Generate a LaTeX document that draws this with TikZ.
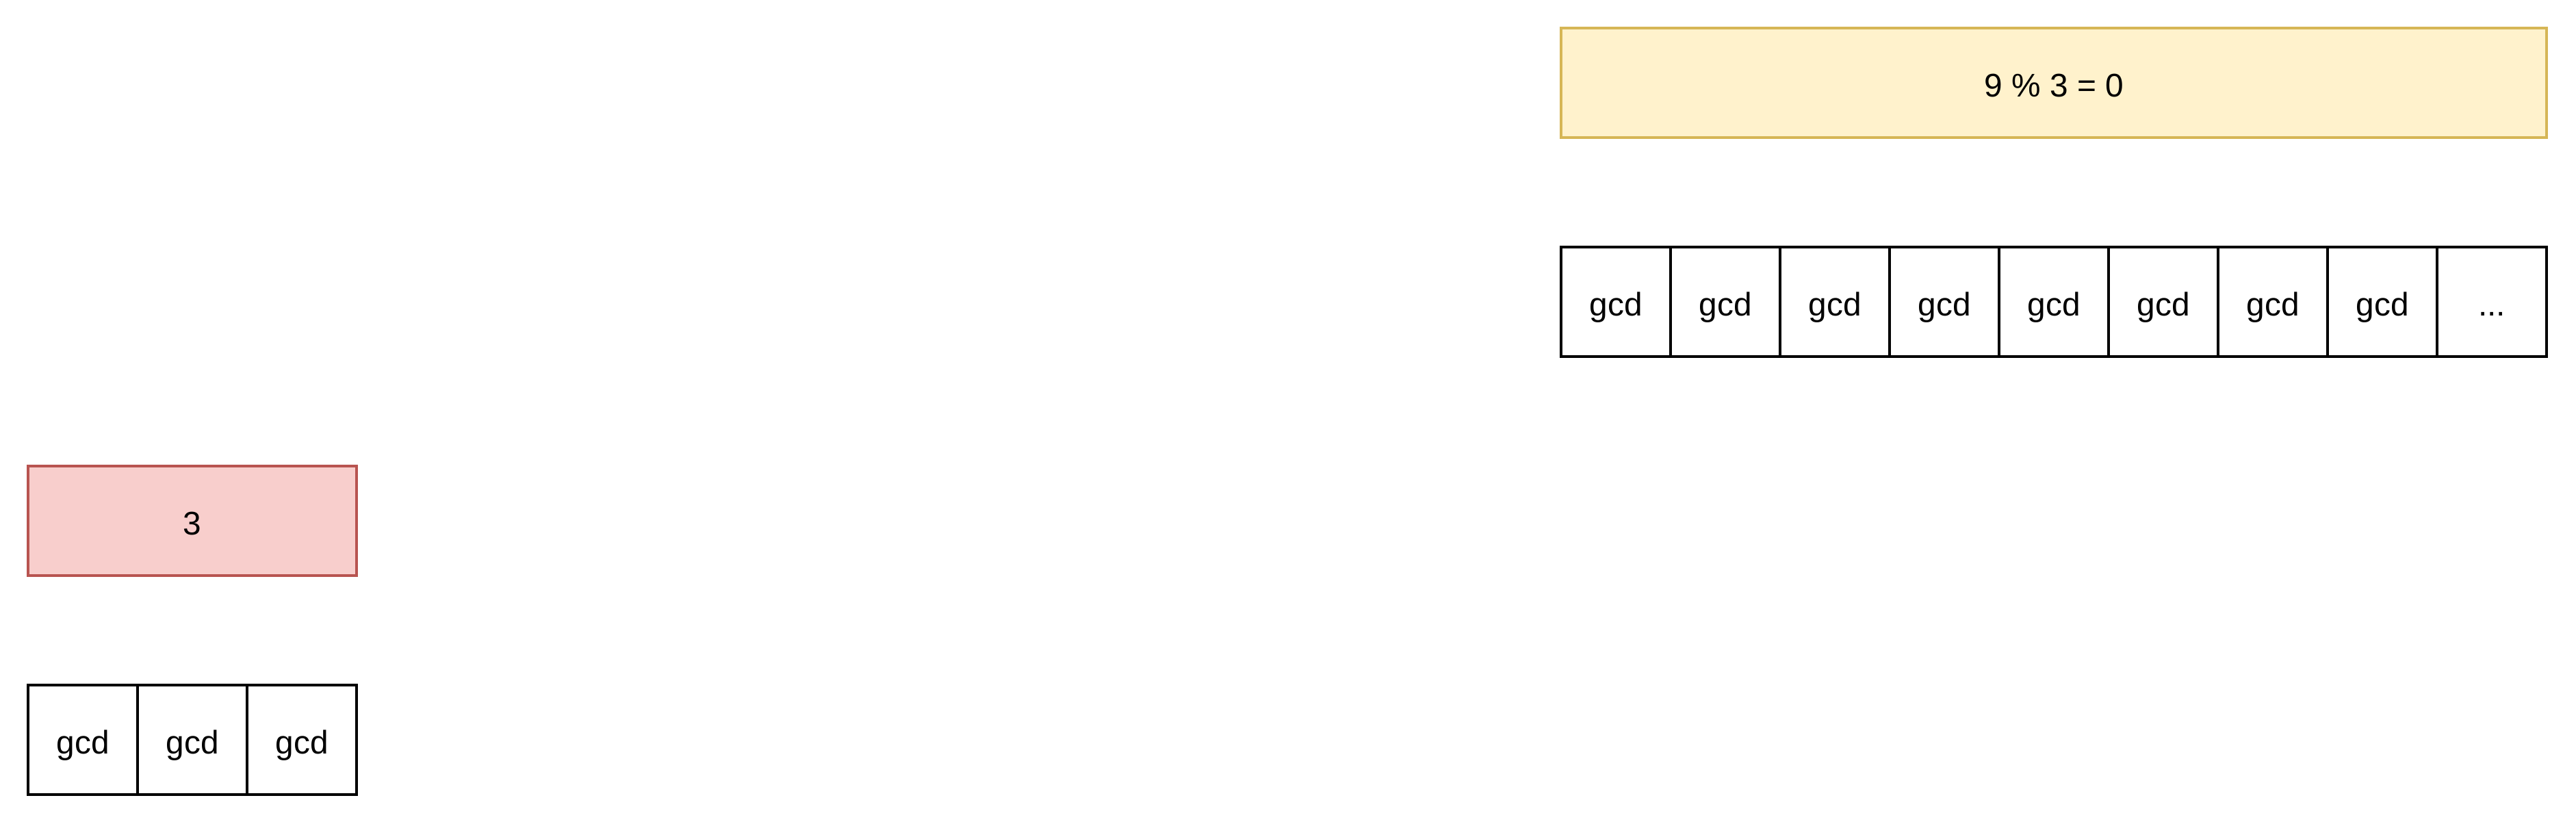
\documentclass[tikz,border=0pt]{standalone}
\usepackage{fontspec}
\setmainfont{Liberation Sans}
\usetikzlibrary{positioning}
\definecolor{notefill}{RGB}{255,242,204}
\definecolor{notedraw}{RGB}{214,182,86}
\definecolor{divfill}{RGB}{248,206,204}
\definecolor{divdraw}{RGB}{184,84,80}

\begin{document}
\begin{tikzpicture}[x=0.025cm,y=-0.025cm,line width=0.71pt,font=\fontsize{8.5}{10}\selectfont,
    every node/.style={inner sep=0pt,outer sep=0pt,text height=0.72em,text depth=0pt},
    cellbox/.style={draw=black,minimum width=1cm,minimum height=1cm},
    notebox/.style={draw=notedraw,fill=notefill,minimum width=9cm,minimum height=1cm},
    divbox/.style={draw=divdraw,fill=divfill,minimum width=3cm,minimum height=1cm}]
  \useasboundingbox (0,0) rectangle (941,301);
  % remainder of the division
  \node[notebox] (rem) at (750.3,30.3) {9 \% 3 = 0};
  % table of the first run
  \foreach \i in {0,...,7}
    \node[cellbox] (top\i) at (590.3+40*\i,110.3) {gcd};
  \node[cellbox,right=0pt of top7] (topmore) {...};
  % divisor
  \node[divbox] (div) at (70.3,190.3) {3};
  % table of the second run
  \foreach \i in {0,1,2}
    \node[cellbox] (low\i) at (30.3+40*\i,270.3) {gcd};
\end{tikzpicture}
\end{document}
